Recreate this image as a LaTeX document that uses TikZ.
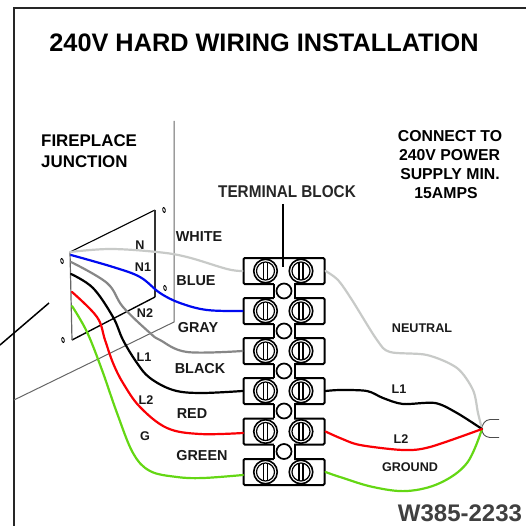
\documentclass[tikz,border=0pt]{standalone}
\usepackage{fontspec}
\setmainfont{Liberation Sans}
\usetikzlibrary{shapes.geometric}
\tikzset{
  lab/.style={font=\bfseries\fontsize{14.4}{16}\selectfont,text=black!90,inner sep=0pt},
  smalllab/.style={font=\bfseries\fontsize{12.6}{14}\selectfont,text=black!90,inner sep=0pt},
  conn/.style={font=\bfseries\fontsize{15.8}{19}\selectfont,inner sep=0pt},
  wire/.style={line width=2.2pt,line cap=round,line join=round},
  thinline/.style={line width=1.1pt,black},
  rowbox/.style={draw=black,line width=2pt,fill=white,rounded corners=1.2pt,minimum width=81pt,minimum height=26pt,inner sep=0pt},
  screw/.style={circle,draw=black,line width=1.6pt,fill=white,minimum size=23.5pt,inner sep=0pt},
  hole/.style={circle,draw=black,line width=1.7pt,fill=white,minimum size=15pt,inner sep=0pt},
  smallscrew/.style={ellipse,draw=black,fill=white,line width=.9pt,minimum width=2.5pt,minimum height=5pt,inner sep=0pt,rotate=12}
}
\definecolor{wwhite}{RGB}{200,202,200}
\definecolor{wblue}{RGB}{0,10,240}
\definecolor{wgray}{RGB}{135,135,135}
\definecolor{wred}{RGB}{250,0,5}
\definecolor{wgreen}{RGB}{100,215,20}
\begin{document}
\begin{tikzpicture}[x=1pt,y=-1pt]
\useasboundingbox (0,0) rectangle (526,526);
% frame and wall
\draw[line width=1.7pt,black!85] (14,526) -- (14,8) -- (526,8);
\draw[line width=1pt,black!60] (174,121) -- (174,322) -- (14,400);
\draw[line width=1.5pt] (49,303) -- (0,345);
% junction plate
\coordinate (ja) at (70,252);
\coordinate (jb) at (155,210);
\coordinate (jc) at (155,297);
\coordinate (jd) at (72,340);
\draw[thinline] (ja) -- (jb);
\draw[line width=1.5pt,black!80] (jb) -- (jc);
\draw[line width=1.4pt] (jc) -- (jd);
\draw[line width=1.2pt,black!60] (jd) -- (ja);
\node[smallscrew] (s1) at (62,261) {};
\node[smallscrew] (s2) at (164,210) {};
\node[smallscrew] (s3) at (165,288) {};
\node[smallscrew] (s4) at (63,340) {};
% terminal block
\foreach \i/\y in {1/271,2/311,3/351,4/391,5/431.5,6/472}{
  \node[rowbox] (row\i) at (284,\y) {};
}
\foreach \y in {291,331,371,411,451.5}{
  \fill[white] (274,\y-9) rectangle (294,\y+9);
  \draw[line width=2pt] (273.5,\y-7) -- (273.5,\y+7) (294.5,\y-7) -- (294.5,\y+7);
}
\foreach \i/\y in {1/291,2/331,3/371,4/411,5/451.5}{
  \node[hole] (hole\i) at (284,\y) {};
}
\foreach \i/\y in {1/271,2/311,3/351,4/391,5/431.5,6/472}{
  \foreach \s/\x in {l/265.5,r/301}{
    \node[screw] (sc\s\i) at (\x,\y) {};
    \draw[line width=1.2pt] (\x,\y) circle (9);
    \draw[line width=1.2pt] (\x-2,\y-9) -- (\x-2,\y+9) (\x+2,\y-9) -- (\x+2,\y+9);
  }
}
\node[font=\bfseries\fontsize{17}{19}\selectfont,text=black!85,inner sep=0pt,xscale=.9] (tb) at (287,192) {TERMINAL BLOCK};
\coordinate (tbe) at (283,267);
\draw[line width=1.6pt] (283,204) -- (tbe);
% plug
\coordinate (pl) at (482,429);
\draw[line width=.9pt,black!70] (499,419.5) -- (490,419.5) .. controls (485,420) and (482,424) .. (pl) .. controls (482,434) and (485,437) .. (490,437.5) -- (499,437.5);
% wire ends on the block
\coordinate (e5) at (243,433);
\coordinate (e6) at (243,475);
% left wires
\draw[wire,wwhite] plot[smooth,tension=.6] coordinates {(ja) (110,249) (157,252) (187,257) (227,269) (row1.west)};
\draw[wire,wblue] plot[smooth,tension=.6] coordinates {(71,255) (113,267) (140,277) (160,293) (180,303) (207,310) (row2.west)};
\draw[wire,wgray] plot[smooth,tension=.6] coordinates {(71,262) (107,283) (123,307) (150,333) (160,340) (187,352) (row3.west)};
\draw[wire,black] plot[smooth,tension=.6] coordinates {(71,274) (93,288) (113,317) (123,340) (137,363) (150,378) (173,390) (200,393) (row4.west)};
\draw[wire,wred] plot[smooth,tension=.6] coordinates {(72,292) (97,317) (105,340) (113,363) (123,383) (140,407) (167,428) (200,434) (e5)};
\draw[wire,wgreen] plot[smooth,tension=.6] coordinates {(72,306) (87,332) (102,370) (117,413) (133,453) (150,471) (177,477) (203,478) (e6)};
% right wires
\draw[wire,wwhite] plot[smooth,tension=.5] coordinates {(row1.east) (338,280) (352,300) (377,340) (390,352) (427,355) (457,368) (473,390) (478,413) (pl)};
\draw[wire,wgreen] plot[smooth,tension=.6] coordinates {(row6.east) (340,477) (373,487) (407,491) (440,483) (467,463) (pl)};
\draw[wire,black] plot[smooth,tension=.5] coordinates {(row4.east) (340,390) (367,391) (383,398) (403,404) (435,403) (457,413) (pl)};
\draw[wire,wred] plot[smooth,tension=.5] coordinates {(row5.east) (340,438) (360,445) (403,450) (430,447) (pl)};
% texts
\node[font=\bfseries\fontsize{25.3}{28}\selectfont,inner sep=0pt] (title) at (264,43) {240V HARD WIRING INSTALLATION};
\node[font=\bfseries\fontsize{16.9}{21}\selectfont,align=left,anchor=west,inner sep=0pt] (fj) at (41,151) {FIREPLACE\\JUNCTION};
\node[conn] (c1) at (450,136) {CONNECT TO};
\node[conn] (c2) at (449.5,155) {240V POWER};
\node[conn] (c3) at (450,174) {SUPPLY MIN.};
\node[conn] (c4) at (446,193) {15AMPS};
\node[smalllab] (n) at (140,245) {N};
\node[smalllab] (n1) at (143,267) {N1};
\node[smalllab] (n2) at (145,313) {N2};
\node[smalllab] (l1) at (144,357) {L1};
\node[smalllab] (l2) at (146,400) {L2};
\node[smalllab] (g) at (145,436) {G};
\node[lab] (white) at (199,237) {WHITE};
\node[lab] (blue) at (196,281) {BLUE};
\node[lab] (gray) at (198,328) {GRAY};
\node[lab] (black) at (200,369) {BLACK};
\node[lab] (red) at (192,414) {RED};
\node[lab] (green) at (202,456) {GREEN};
\node[smalllab] (neutral) at (422,328) {NEUTRAL};
\node[smalllab] (rl1) at (399,389) {L1};
\node[smalllab] (rl2) at (401,439) {L2};
\node[smalllab] (ground) at (410,467) {GROUND};
\node[font=\bfseries\fontsize{24}{26}\selectfont,text=black!75,inner sep=0pt] (code) at (460,513) {W385-2233};
\end{tikzpicture}
\end{document}
